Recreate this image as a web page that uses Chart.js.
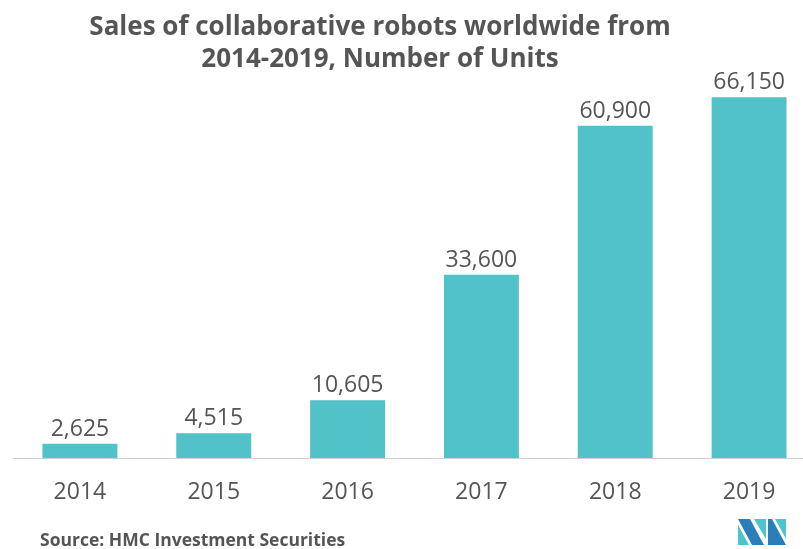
<!DOCTYPE html>
<html>
<head>
<meta charset="utf-8">
<script src="https://cdn.jsdelivr.net/npm/chart.js@4"></script>
<style>
  html, body { margin: 0; padding: 0; background: #fff; overflow: hidden; }
  #wrap { width: 816px; height: 549px; }
</style>
</head>
<body>
<div id="wrap"><canvas id="myChart" width="816" height="549"></canvas></div>
<script>
  // Dados do gráfico
  const anos = ['2014', '2015', '2016', '2017', '2018', '2019'];
  const unidades = [2625, 4515, 10605, 33600, 60900, 66150];
  const tituloLinhas = ['Sales of collaborative robots worldwide from', '2014-2019, Number of Units'];
  const fonte = 'Source: HMC Investment Securities';

  const corBarra = '#52c2c9';
  const corTexto = '#555555';

  // Título e rótulos de valor acima das barras
  const rotulosPlugin = {
    id: 'rotulos',
    afterDatasetsDraw(chart) {
      const ctx = chart.ctx;
      const meta = chart.getDatasetMeta(0);
      ctx.save();
      ctx.font = '23px "Open Sans"';
      ctx.fillStyle = corTexto;
      ctx.textAlign = 'center';
      ctx.textBaseline = 'alphabetic';
      meta.data.forEach((bar, i) => {
        ctx.fillText(unidades[i].toLocaleString('en-US'), bar.x, bar.y - 8);
      });

      ctx.font = 'bold 26px "Open Sans"';
      ctx.textBaseline = 'middle';
      tituloLinhas.forEach((linha, i) => {
        ctx.fillText(linha, 380, 28 + i * 32);
      });
      ctx.restore();
    }
  };

  // Fonte e logotipo no rodapé
  const rodapePlugin = {
    id: 'rodape',
    afterDraw(chart) {
      const ctx = chart.ctx;
      ctx.save();
      ctx.font = 'bold 17.5px "Open Sans"';
      ctx.fillStyle = corTexto;
      ctx.textAlign = 'left';
      ctx.textBaseline = 'middle';
      ctx.fillText(fonte, 40, 541);

      // logotipo simples
      const x = 738, y = 519, h = 26;
      ctx.fillStyle = '#2b7fb8';
      ctx.beginPath();
      ctx.moveTo(x, y); ctx.lineTo(x + 12, y); ctx.lineTo(x + 26, y + h); ctx.lineTo(x + 14, y + h);
      ctx.closePath(); ctx.fill();
      ctx.fillStyle = '#4cc4cc';
      ctx.beginPath();
      ctx.moveTo(x, y + 6); ctx.lineTo(x + 11, y + h); ctx.lineTo(x, y + h);
      ctx.closePath(); ctx.fill();
      ctx.beginPath();
      ctx.moveTo(x + 16, y); ctx.lineTo(x + 28, y); ctx.lineTo(x + 28, y + 20);
      ctx.closePath(); ctx.fill();
      ctx.fillStyle = '#2b7fb8';
      ctx.beginPath();
      ctx.moveTo(x + 30, y); ctx.lineTo(x + 34, y); ctx.lineTo(x + 48, y + h); ctx.lineTo(x + 30, y + h);
      ctx.closePath(); ctx.fill();
      ctx.fillStyle = '#4cc4cc';
      ctx.beginPath();
      ctx.moveTo(x + 37, y); ctx.lineTo(x + 48, y); ctx.lineTo(x + 48, y + 20);
      ctx.closePath(); ctx.fill();
      ctx.restore();
    }
  };

  const config = {
    type: 'bar',
    data: {
      labels: anos,
      datasets: [{
        label: 'Number of Units',
        data: unidades,
        backgroundColor: corBarra,
        borderWidth: 0,
        barPercentage: 0.56,
        categoryPercentage: 1
      }]
    },
    options: {
      responsive: false,
      animation: false,
      layout: {
        padding: { left: 13, right: 0, top: 80, bottom: 0 }
      },
      plugins: {
        legend: { display: false },
        tooltip: { enabled: false },
        title: { display: false }
      },
      scales: {
        x: {
          grid: { display: false, drawTicks: false },
          border: { display: true, color: '#d0d0d0', width: 1 },
          ticks: {
            color: corTexto,
            font: { family: '"Open Sans"', size: 23 },
            padding: 21
          },
          afterFit(scale) { scale.height = 91; }
        },
        y: {
          display: false,
          min: 0,
          max: 69300
        }
      }
    },
    plugins: [rotulosPlugin, rodapePlugin]
  };

  const ctx = document.getElementById('myChart').getContext('2d');
  const myChart = new Chart(ctx, config);
</script>
</body>
</html>
